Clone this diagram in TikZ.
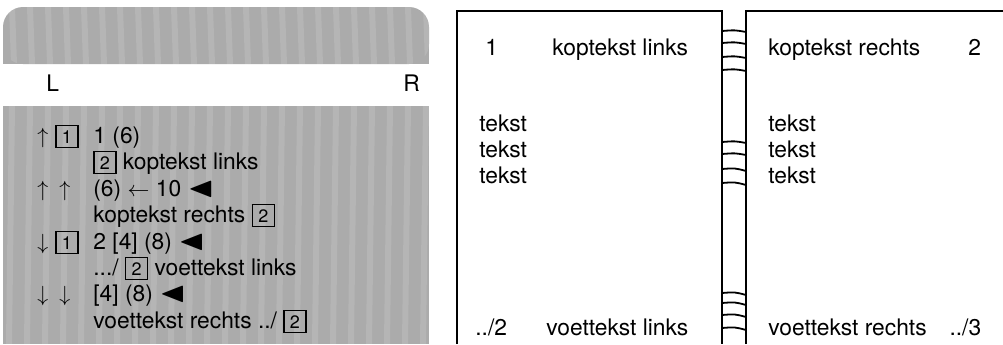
\documentclass[tikz,border=0pt]{standalone}
\usepackage{amssymb}
\usepackage{graphicx}
\usepackage{fontspec}
\setmainfont{TeX Gyre Heros}
\usetikzlibrary{positioning}

\newcommand\kader[1]{\fboxsep=0pt\fboxrule=0.6pt\fbox{\makebox[10.4pt][c]{\rule[-2pt]{0pt}{10.4pt}\fontsize{9}{9}\selectfont #1}}}
\newcommand\pijl{\scalebox{1.5}[1.25]{$\blacktriangleleft$}}

\begin{document}
\begin{tikzpicture}[x=0.5pt,y=-0.5pt,
    txt/.style={font=\fontsize{11.4}{13.6}\selectfont,inner sep=0pt,anchor=base west},
    panel/.style={fill=black!33},
    streep/.style={draw=white,opacity=0.13,line width=3pt},
    pagina/.style={draw,line width=0.7pt},
    steek/.style={draw,line width=0.9pt}]
  \useasboundingbox (0,0) rectangle (1003,344);
  % grijs paneel links
  \fill[panel,rounded corners=10pt] (3,7) rectangle (429,64);
  \fill[panel] (3,40) rectangle (429,64);
  \fill[panel] (3,106) rectangle (429,344);
  \begin{scope}
    \clip[rounded corners=10pt] (3,7) rectangle (429,64);
    \foreach \sx in {12,30,...,429} \draw[streep] (\sx,7) -- (\sx+2,64);
  \end{scope}
  \begin{scope}
    \clip (3,106) rectangle (429,344);
    \foreach \sx in {12,30,...,429} \draw[streep] (\sx,106) -- (\sx-3,344);
  \end{scope}
  \node[txt] (kantL) at (46,91) {L};
  \node[txt] (kantR) at (403,91) {R};
  % regels
  \node[txt] (r1a) at (37,143) {$\uparrow$};
  \node[txt] (r1b) at (55,143) {\kader{1}};
  \node[txt] (r1c) at (93,143) {1 (6)};
  \node[txt] (r2c) at (93,169) {\kader{2} koptekst links};
  \node[txt] (r3a) at (37,196) {$\uparrow$};
  \node[txt] (r3b) at (59,196) {$\uparrow$};
  \node[txt] (r3c) at (93,196) {(6) $\leftarrow$ 10 \pijl};
  \node[txt] (r4c) at (93,222) {koptekst rechts \kader{2}};
  \node[txt] (r5a) at (37,249) {$\downarrow$};
  \node[txt] (r5b) at (55,249) {\kader{1}};
  \node[txt] (r5c) at (93,249) {2 [4] (8) \pijl};
  \node[txt] (r6c) at (93,275) {.../ \kader{2} voettekst links};
  \node[txt] (r7a) at (37,301) {$\downarrow$};
  \node[txt] (r7b) at (59,301) {$\downarrow$};
  \node[txt] (r7c) at (93,301) {[4] (8) \pijl};
  \node[txt] (r8c) at (93,328) {voettekst rechts ../ \kader{2}};
  % twee pagina's
  \draw[pagina] (457,344) -- (457,11) -- (722,11) -- (722,344);
  \draw[pagina] (746,344) -- (746,11) -- (1003,11);
  % rugnaden
  \draw[steek] (722,31) .. controls (735,30) .. (746,32);
  \draw[steek] (722,43) .. controls (735,42) .. (746,44);
  \draw[steek] (722,57) .. controls (735,56) .. (746,58);
  \draw[steek] (722,70) .. controls (735,69) .. (746,71);
  \draw[steek] (722,142) .. controls (735,141) .. (746,143);
  \draw[steek] (722,154) .. controls (735,153) .. (746,155);
  \draw[steek] (722,169) .. controls (735,168) .. (746,171);
  \draw[steek] (722,183) .. controls (735,182) .. (746,185);
  \draw[steek] (722,293) .. controls (735,292) .. (746,295);
  \draw[steek] (722,303) .. controls (735,302) .. (746,305);
  \draw[steek] (722,315) .. controls (735,314) .. (746,317);
  \draw[steek] (722,328) .. controls (735,327) .. (746,330);
  % linkerpagina
  \node[txt] (nr1) at (485,55) {1};
  \node[txt] (kopL) at (552,55) {koptekst links};
  \node[txt] (tL1) at (479,131) {tekst};
  \node[txt] (tL2) at (479,157) {tekst};
  \node[txt] (tL3) at (479,183) {tekst};
  \node[txt] (voetnrL) at (475,335) {../2};
  \node[txt] (voetL) at (546,335) {voettekst links};
  % rechterpagina
  \node[txt] (kopR) at (768,55) {koptekst rechts};
  \node[txt] (nr2) at (968,55) {2};
  \node[txt] (tR1) at (768,131) {tekst};
  \node[txt] (tR2) at (768,157) {tekst};
  \node[txt] (tR3) at (768,183) {tekst};
  \node[txt] (voetR) at (768,335) {voettekst rechts\quad ../3};
\end{tikzpicture}
\end{document}
